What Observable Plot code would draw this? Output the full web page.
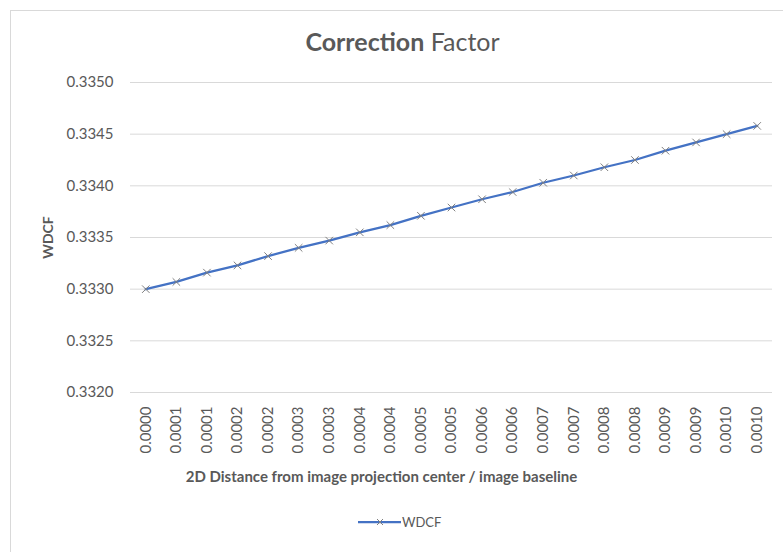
<!DOCTYPE html>
<html>
<head>
<meta charset="utf-8">
<script src="https://cdn.jsdelivr.net/npm/d3@7"></script>
<script src="https://cdn.jsdelivr.net/npm/@observablehq/plot@0.6"></script>
<style>
  body { margin: 0; background: #fff; font-family: Lato, "Open Sans", sans-serif; }
  #frame { position: absolute; left: 10px; top: 10px; width: 790px; height: 560px; border: 1px solid #d9d9d9; border-right: none; border-bottom: none; }
  #title { position: absolute; left: 0; width: 805px; top: 26px; text-align: center; font-size: 25px; color: #595959; }
  #title b { font-weight: 700; }
  #chart { position: absolute; left: 0; top: 60px; }
  #chart g[aria-label="y-axis label"] text { font-weight: 700; font-size: 14px; }
  #legend { position: absolute; left: 0; top: 510px; }
</style>
</head>
<body>
<div id="frame"></div>
<div id="title"><b>Correction</b> Factor</div>
<div id="chart"></div>
<div id="legend"></div>
<script>
const xLabels = ["0.0000","0.0001","0.0001","0.0002","0.0002","0.0003","0.0003","0.0004","0.0004","0.0005","0.0005","0.0006","0.0006","0.0007","0.0007","0.0008","0.0008","0.0009","0.0009","0.0010","0.0010"];
const wdcf = [0.33300,0.33307,0.33316,0.33323,0.33332,0.33340,0.33347,0.33355,0.33362,0.33371,0.33379,0.33387,0.33394,0.33403,0.33410,0.33418,0.33425,0.33434,0.33442,0.33450,0.33458];
const yTicks = [0.3320,0.3325,0.3330,0.3335,0.3340,0.3345,0.3350];
const seriesName = "WDCF";
const xTitle = "2D Distance from image projection center / image baseline";

const data = wdcf.map((v, i) => ({i, v}));
const lineColor = "#4472c4";
const markColor = "#808080";

const chart = Plot.plot({
  width: 783,
  height: 430,
  marginLeft: 130,
  marginRight: 11,
  marginTop: 22,
  marginBottom: 98,
  style: {fontFamily: "Lato, 'Open Sans', sans-serif", fontSize: "15px", color: "#595959", background: "transparent", overflow: "visible"},
  x: {type: "point", domain: d3.range(xLabels.length), padding: 0.5, round: false},
  y: {domain: [0.3320, 0.3350]},
  marks: [
    Plot.gridY(yTicks, {stroke: "#d9d9d9", strokeOpacity: 1}),
    Plot.axisY(yTicks, {tickSize: 0, tickPadding: 17, tickFormat: d3.format(".4f"), label: "WDCF", labelAnchor: "center", labelArrow: "none", labelOffset: 87, fill: "#595959"}),
    Plot.axisX({tickSize: 0, tickRotate: -90, tickPadding: 14, tickFormat: i => xLabels[i], label: null, fill: "#595959"}),
    Plot.text([xTitle], {frameAnchor: "bottom", dx: -70, dy: 89, fill: "#595959", fontWeight: "bold", fontSize: 15}),
    Plot.line(data, {x: "i", y: "v", stroke: lineColor, strokeWidth: 2.25}),
    Plot.dot(data, {x: "i", y: "v", symbol: "times", r: 3.5, stroke: markColor, strokeWidth: 1})
  ]
});
document.getElementById("chart").appendChild(chart);

// legend
const lg = d3.create("svg").attr("width", 783).attr("height", 24);
lg.append("line").attr("x1", 358).attr("x2", 401).attr("y1", 12).attr("y2", 12).attr("stroke", lineColor).attr("stroke-width", 2.25);
const cx = 380, cy = 12, s = 3;
lg.append("path").attr("d", `M${cx-s},${cy-s}L${cx+s},${cy+s}M${cx-s},${cy+s}L${cx+s},${cy-s}`).attr("stroke", markColor).attr("fill", "none");
lg.append("text").attr("x", 402).attr("y", 12).attr("dy", "0.35em").attr("fill", "#595959").attr("font-size", 13).attr("font-family", "Lato, sans-serif").text(seriesName);
document.getElementById("legend").appendChild(lg.node());
</script>
</body>
</html>
